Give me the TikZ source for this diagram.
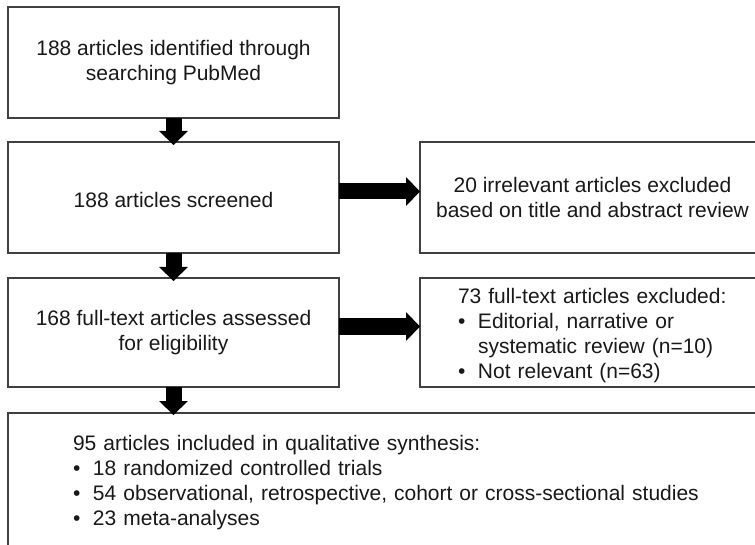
\documentclass[tikz,border=0pt]{standalone}
\usepackage{fontspec}
\setmainfont{Liberation Sans}
\usetikzlibrary{arrows.meta,positioning}
\newcommand{\blt}{\makebox[20pt][l]{\textbullet}}
\tikzset{
    %Define style for boxes
    box/.style={
           rectangle,
           draw=black!75, line width=1.2pt,
           minimum width=331pt,
           minimum height=111pt,
           outer sep=0pt,
           font=\fontsize{21}{25}\selectfont,
           execute at begin node=\rule{0pt}{21pt},
           text=black!90,
           align=center},
    listbox/.style={
           box,
           inner xsep=38pt,
           text width=269pt,
           align=left},
    % Define arrow style
    pil/.style={
           -{Triangle[width=29pt,length=14pt,line width=0pt]},
           line width=16pt,
           black}
}
\begin{document}
\begin{tikzpicture}[x=1pt,y=-1pt]
\path[use as bounding box, fill=white] (0,0) rectangle (755,545);
\clip (0,0) rectangle (755,545);
\node[box, anchor=north west](b1) at (8,7){188 articles identified through\\searching PubMed};
\node[box, below=24pt of b1](b2){188 articles screened};
\node[box, below=25pt of b2, minimum height=109pt](b3){168 full-text articles assessed\\for eligibility};
\node[box, below=26pt of b3.south west, anchor=north west, inner xsep=65pt, text width=700pt, minimum height=134pt, align=left](b4){95 articles included in qualitative synthesis:\\
\blt 18 randomized controlled trials\\
\blt 54 observational, retrospective, cohort or cross-sectional studies\\
\blt 23 meta-analyses};
\node[box, right=81pt of b2, anchor=west, minimum width=345pt](r1){20 irrelevant articles excluded\\based on title and abstract review};
\node[listbox, right=81pt of b3, anchor=west, minimum height=109pt](r2){73 full-text articles excluded:\\
\blt Editorial, narrative or\\
\hspace*{20pt}systematic review (n=10)\\
\blt Not relevant (n=63)};
\draw[pil] (b1.south) -- ([yshift=-3pt]b2.north);
\draw[pil] (b2.south) -- ([yshift=-3pt]b3.north);
\draw[pil] (b3.south) -- ([yshift=-2pt]b4.north -| b3.south);
\draw[pil] ([yshift=6pt]b2.east) -- ([yshift=6pt]r1.west);
\draw[pil] ([yshift=6pt]b3.east) -- ([yshift=6pt]r2.west);
\end{tikzpicture}
\end{document}
